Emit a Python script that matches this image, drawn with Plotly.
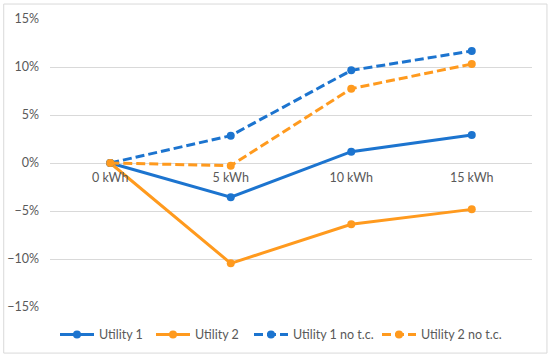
import plotly.graph_objects as go

categories = ["0 kWh", "5 kWh", "10 kWh", "15 kWh"]
utility1 = [0.0, -3.57, 1.18, 2.92]
utility2 = [0.0, -10.45, -6.39, -4.83]
utility1_no_tc = [0.0, 2.85, 9.65, 11.67]
utility2_no_tc = [0.0, -0.28, 7.74, 10.31]
y_ticks = [-15, -10, -5, 0, 5, 10, 15]
y_tick_labels = ["\u221215%", "\u221210%", "\u22125%", "0%", "5%", "10%", "15%"]

BLUE = "#1C74CF"
ORANGE = "#FF9A1E"
FONT = dict(family="Lato, Open Sans, sans-serif", size=12.5, color="#595959")

PLOT_L, PLOT_W = 50, 482
legend_text_px = [99, 195, 293, 421]  # where each legend label starts (pixels)

fig = go.Figure()
series = [
    ("Utility 1", utility1, BLUE, "solid"),
    ("Utility 2", utility2, ORANGE, "solid"),
    ("Utility 1 no t.c.", utility1_no_tc, BLUE, "9px,4px"),
    ("Utility 2 no t.c.", utility2_no_tc, ORANGE, "9px,4px"),
]
legend_names = ["legend", "legend2", "legend3", "legend4"]
for (name, vals, col, dash), lg in zip(series, legend_names):
    fig.add_trace(go.Scatter(
        x=categories, y=vals, name=name, mode="lines+markers",
        line=dict(color=col, width=3, dash=dash),
        marker=dict(color=col, size=8, symbol="circle"),
        legend=lg,
    ))

legend_layout = {}
for lg, px in zip(legend_names, legend_text_px):
    legend_layout[lg] = dict(
        orientation="h", x=(px - 44 - PLOT_L) / PLOT_W, xanchor="left",
        y=-0.045, yanchor="top", font=FONT, itemwidth=34,
        bgcolor="rgba(0,0,0,0)",
    )

fig.update_layout(
    width=550, height=357,
    margin=dict(l=50, r=18, t=19, b=50, autoexpand=False),
    paper_bgcolor="white", plot_bgcolor="white",
    font=FONT,
    showlegend=True,
    xaxis=dict(
        type="category", range=[-0.5, 3.5],
        showgrid=False, zeroline=False, showline=False,
        anchor="free", position=0.5, ticks="", ticklabelstandoff=5,
        tickfont=FONT, automargin=False,
    ),
    yaxis=dict(
        range=[-15, 15], tickvals=y_ticks, ticktext=y_tick_labels,
        showgrid=True, gridcolor="#D9D9D9", gridwidth=1,
        zeroline=True, zerolinecolor="#D9D9D9", zerolinewidth=1,
        showline=False, ticks="", tickfont=FONT, ticklabelstandoff=10,
        automargin=False,
    ),
    shapes=[dict(type="rect", xref="paper", yref="paper",
                 x0=-0.096, x1=1.031, y0=-0.160, y1=1.052,
                 line=dict(color="#D9D9D9", width=1), layer="below")],
    **legend_layout,
)

fig.write_html("out.html", config={"displayModeBar": False},
               post_script="document.body.style.margin='0';")
